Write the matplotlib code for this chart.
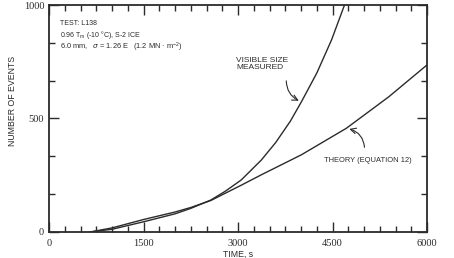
import numpy as np
import matplotlib.pyplot as plt
from matplotlib.ticker import MultipleLocator

# values
t_measured = [650, 1000, 1500, 2000, 2250, 2570, 2800, 3050, 3370, 3600, 3830, 4005, 4250, 4484, 4690]
n_measured = [0, 12, 45, 80, 104, 141, 180, 229, 317, 395, 488, 573, 700, 846, 1000]
t_theory = [650, 1000, 1500, 2000, 2250, 2570, 3050, 3370, 4005, 4720, 5390, 6000]
n_theory = [0, 18, 55, 88, 108, 139, 206, 252, 340, 457, 595, 736]
x_ticks = [0, 1500, 3000, 4500, 6000]
y_ticks = [0, 500, 1000]

ink = '#2b2b2b'
plt.rcParams['font.family'] = ['Liberation Sans', 'DejaVu Sans']

fig = plt.figure(figsize=(4.54, 2.58), dpi=100)
ax = fig.add_axes([0.108, 0.1008, 0.8326, 0.8798])

ax.plot(t_measured, n_measured, color=ink, lw=1.0)
ax.plot(t_theory, n_theory, color=ink, lw=1.0)

ax.set_xlim(0, 6000)
ax.set_ylim(0, 1000)
ax.set_xticks(x_ticks)
ax.set_yticks(y_ticks)
ax.xaxis.set_minor_locator(MultipleLocator(250))
ax.yaxis.set_minor_locator(MultipleLocator(500 / 3))
ax.tick_params(which='both', direction='in', top=True, right=True, color=ink,
               width=1.0, labelsize=7.5, labelcolor=ink)
ax.tick_params(which='major', length=7)
ax.tick_params(which='minor', length=4)
ax.tick_params(axis='x', pad=5)
for lab in ax.get_xticklabels() + ax.get_yticklabels():
    lab.set_family('Liberation Serif')
for s in ax.spines.values():
    s.set_color(ink)
    s.set_linewidth(1.3)

ax.set_ylabel('NUMBER OF EVENTS', fontsize=6.3, color=ink)
ax.yaxis.set_label_coords(-0.085, 0.577)
ax.set_xlabel('TIME, s', fontsize=6.3, color=ink, labelpad=1)

# test conditions
ax.text(175, 920, 'TEST: L138', fontsize=5, color=ink, va='center')
ax.text(175, 866, r'0.96 T$_\mathregular{m}$ (-10 °C), S-2 ICE', fontsize=5, color=ink, va='center')
ax.text(175, 812, r'6.0 mm,   $\sigma$ = 1.26 E   (1.2 MN · m$^{\mathregular{-2}}$)',
        fontsize=5.3, color=ink, va='center')

# curve labels with leader arrows
ax.text(2970, 770, 'VISIBLE SIZE\nMEASURED', fontsize=6, color=ink, va='top',
        linespacing=1.0)
ax.annotate('', xy=(4005, 573), xytext=(3766, 678),
            arrowprops=dict(arrowstyle='->', color=ink, lw=0.8,
                            connectionstyle='arc3,rad=0.35'))
ax.text(4360, 317, 'THEORY (EQUATION 12)', fontsize=5.4, color=ink, va='center')
ax.annotate('', xy=(4723, 457), xytext=(5010, 361),
            arrowprops=dict(arrowstyle='->', color=ink, lw=0.8,
                            connectionstyle='arc3,rad=0.4'))

fig.savefig('out.png', dpi=100)
